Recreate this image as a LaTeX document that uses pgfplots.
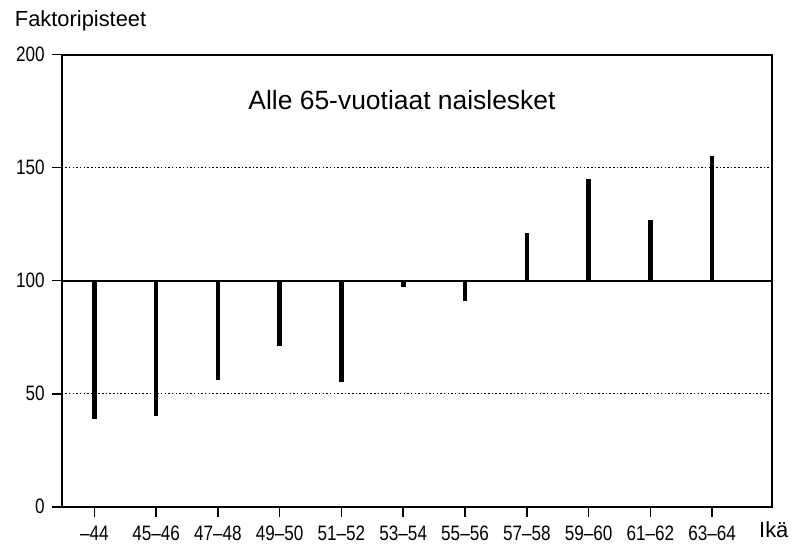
\documentclass[border=0pt]{standalone}
\usepackage{fontspec}
\setmainfont{Liberation Sans}
\newfontfamily\tickfont{Liberation Sans}[FakeStretch=0.82, Ligatures=TeX]
\usepackage{pgfplots}
\pgfplotsset{compat=1.18}

\begin{document}
\begin{tikzpicture}
\begin{axis}[
  name=ax,
  width=357.5pt, height=227.5pt,
  scale only axis,
  clip=false,
  xmin=-0.53, xmax=10.97,
  ymin=0, ymax=200,
  xtick={0,...,10},
  xticklabels={--44,45--46,47--48,49--50,51--52,53--54,55--56,57--58,59--60,61--62,63--64},
  ytick={0,50,100,150,200},
  xtick pos=bottom, ytick pos=left,
  tick align=outside,
  major tick length=5pt,
  tick style={line width=0.8pt, black},
  axis line style={line width=1.1pt},
  ymajorgrids=true,
  grid style={black, line width=0.75pt, dash pattern=on 0.75pt off 1.1pt},
  tick label style={font=\tickfont\fontsize{10.5}{12}\selectfont},
  x tick label style={yshift=-1pt},
  /pgf/number format/assume math mode=true,
]
% reference level
\addplot[black, line width=0.9pt] coordinates {(-0.53,100)(10.97,100)};
% factor scores, drawn from 100
\addplot[black, line width=2.3pt, unbounded coords=jump] coordinates {
  (0,100)(0,39) (0,nan)
  (1,100)(1,40) (1,nan)
  (2,100)(2,56) (2,nan)
  (3,100)(3,71) (3,nan)
  (4,100)(4,55) (4,nan)
  (5,100)(5,97) (5,nan)
  (6,100)(6,91) (6,nan)
  (7,100)(7,121) (7,nan)
  (8,100)(8,145) (8,nan)
  (9,100)(9,127) (9,nan)
  (10,100)(10,155)
};
\node[font=\fontsize{13.3}{15}\selectfont] at (axis cs:4.98,180) {Alle 65-vuotiaat naislesket};
\node[font=\fontsize{11}{13}\selectfont, anchor=base west, xshift=-27pt, yshift=14pt]
  at (rel axis cs:0,1) {Faktoripisteet};
\node[font=\fontsize{11}{13}\selectfont, anchor=base west, xshift=-10pt, yshift=-15.5pt]
  at (rel axis cs:1,0) {Ikä};
\end{axis}
\path ([shift={(-31pt,-20pt)}]ax.south west) rectangle ([shift={(9pt,27.5pt)}]ax.north east);
\end{tikzpicture}
\end{document}
